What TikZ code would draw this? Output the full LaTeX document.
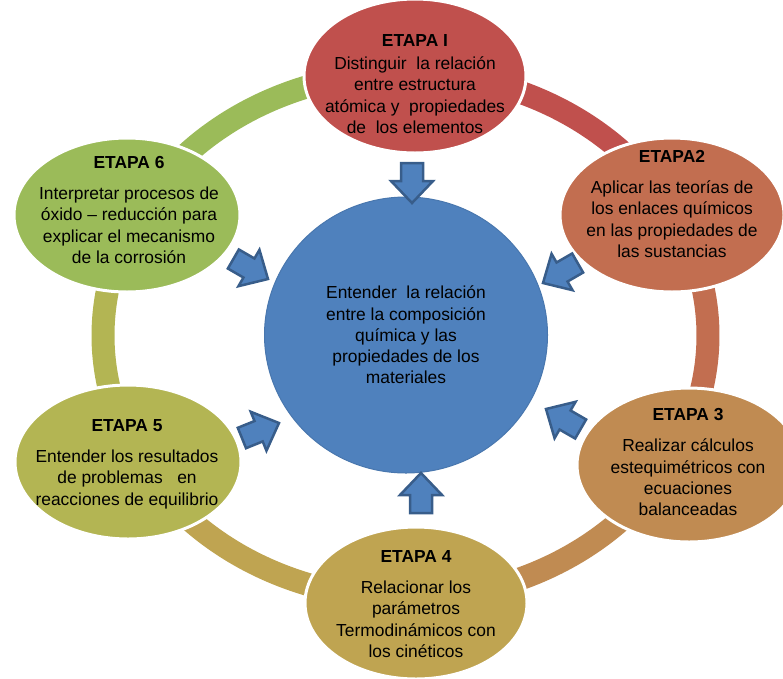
\documentclass[tikz,border=0pt]{standalone}
\usepackage{fontspec}
\setmainfont{Liberation Sans}
\usetikzlibrary{shapes.geometric}
\definecolor{cI}{HTML}{C0504D}
\definecolor{cII}{HTML}{C26E50}
\definecolor{cIII}{HTML}{C08B52}
\definecolor{cIV}{HTML}{BFA451}
\definecolor{cV}{HTML}{B3B553}
\definecolor{cVI}{HTML}{9BBB59}
\definecolor{cBlue}{HTML}{4F81BD}
\definecolor{cBlueD}{HTML}{385D8A}
\tikzset{
  stage/.style={ellipse, draw=white, line width=3pt, inner sep=0pt, minimum width=224pt, minimum height=154pt},
  stxt/.style={align=center, font=\fontsize{17.4}{21.3}\selectfont, inner sep=0pt, text=black},
  ringseg/.style={line width=23pt},
  barrow/.style={fill=cBlue, draw=cBlueD, line width=2.5pt, line join=miter},
}
\newcommand{\blockarr}[3]{%
  \begin{scope}[shift={(#1,-#2)}, rotate=#3]
    \draw[barrow] (0,0) -- (-22,21) -- (-22,11) -- (-40,11) -- (-40,-11) -- (-22,-11) -- (-22,-21) -- cycle;
  \end{scope}}
\begin{document}
\begin{tikzpicture}[x=1pt,y=1pt]
\useasboundingbox (0,0) rectangle (783,-678);
\coordinate (rc) at (405.5,-335.5);
% ring
\draw[ringseg, draw=cVI] (rc) ++(153:302.5 and 263) arc[start angle=153, end angle=90, x radius=302.5, y radius=263];
\draw[ringseg, draw=cI] (rc) ++(90:302.5 and 263) arc[start angle=90, end angle=27.5, x radius=302.5, y radius=263];
\draw[ringseg, draw=cII] (rc) ++(27.5:302.5 and 263) arc[start angle=27.5, end angle=-28, x radius=302.5, y radius=263];
\draw[ringseg, draw=cIII] (rc) ++(-28:302.5 and 263) arc[start angle=-28, end angle=-90, x radius=302.5, y radius=263];
\draw[ringseg, draw=cIV] (rc) ++(-90:302.5 and 263) arc[start angle=-90, end angle=-152, x radius=302.5, y radius=263];
\draw[ringseg, draw=cV] (rc) ++(208:302.5 and 263) arc[start angle=208, end angle=153, x radius=302.5, y radius=263];
% stages
\node[stage, fill=cI, minimum width=222pt, minimum height=154pt] (s1) at (415,-76) {};
\node[stage, fill=cII] (s2) at (672,-215) {};
\node[stage, fill=cIII] (s3) at (689,-465) {};
\node[stage, fill=cIV, minimum width=222pt, minimum height=152pt] (s4) at (416,-603) {};
\node[stage, fill=cV, minimum width=226pt] (s5) at (128,-462) {};
\node[stage, fill=cVI, minimum width=226pt] (s6) at (127,-215) {};
% center
\node[ellipse, fill=cBlue, draw=cBlue!92!black, line width=1pt, inner sep=0pt, minimum width=283pt, minimum height=276pt, stxt] (c) at (406,-335)
  {Entender\ \ la relación\\entre la composición\\química y las\\propiedades de los\\materiales};
% texts
\node[stxt] (t1) at (415,-84) {\textbf{ETAPA I}\\[2pt]Distinguir\ \ la relación\\entre estructura\\atómica y\ \ propiedades\\de\ \ los elementos};
\node[stxt] (t2) at (672,-204) {\textbf{ETAPA2}\\[10pt]Aplicar las teorías de\\los enlaces químicos\\en las propiedades de\\las sustancias};
\node[stxt] (t3) at (688,-462) {\textbf{ETAPA 3}\\[10pt]Realizar cálculos\\estequimétricos con\\ecuaciones\\balanceadas};
\node[stxt] (t4) at (416,-604) {\textbf{ETAPA 4}\\[10pt]Relacionar los\\parámetros\\Termodinámicos con\\los cinéticos};
\node[stxt] (t5) at (127,-464) {\textbf{ETAPA 5}\\[10pt]Entender los resultados\\de problemas\ \ \ en\\reacciones de equilibrio};
\node[stxt] (t6) at (129,-210) {\textbf{ETAPA 6}\\[10pt]Interpretar procesos de\\óxido -- reducción para\\explicar el mecanismo\\de la corrosión};
% arrows
\blockarr{412}{203}{-90}
\blockarr{543}{283}{210}
\blockarr{546}{409}{150}
\blockarr{421}{473}{90}
\blockarr{279}{423}{22}
\blockarr{268}{279}{-30}
\end{tikzpicture}
\end{document}
